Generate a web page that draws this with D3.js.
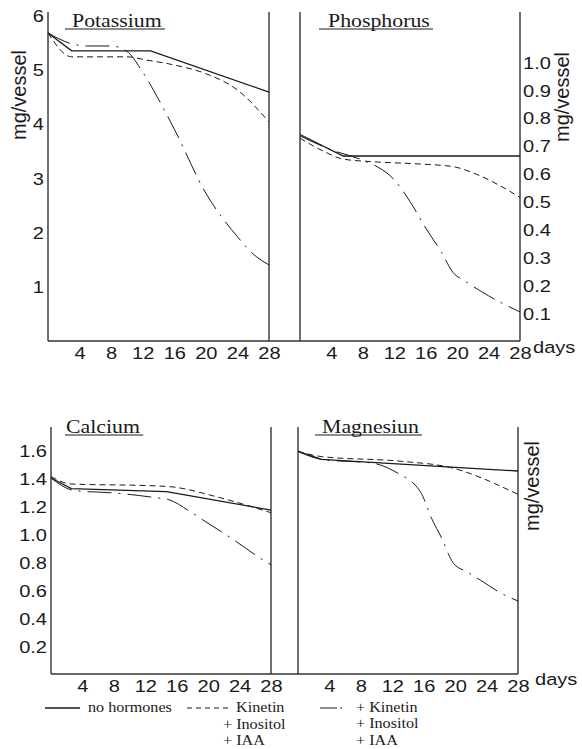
<!DOCTYPE html>
<html><head><meta charset="utf-8">
<script src="https://cdn.jsdelivr.net/npm/d3@7"></script>
<style>body{margin:0;background:#fff}svg{display:block}</style>
</head><body>
<svg id="c" width="582" height="749"></svg>
<script>
// ---------- data ----------
const xTickLabels = [4, 8, 12, 16, 20, 24, 28];
const potassiumTicks = [1, 2, 3, 4, 5, 6];
const phosphorusTicks = [0.1, 0.2, 0.3, 0.4, 0.5, 0.6, 0.7, 0.8, 0.9, 1.0];
const calciumTicks = [0.2, 0.4, 0.6, 0.8, 1.0, 1.2, 1.4, 1.6];
const panelTitles = ["Potassium", "Phosphorus", "Calcium", "Magnesiun"];
const legendLabels = [["no hormones"], ["Kinetin", "+ Inositol", "+ IAA"], ["+ Kinetin", "+ Inositol", "+ IAA"]];

// [day, mg/vessel]
const potassiumNone    = [[0,5.67],[3,5.34],[13,5.34],[28,4.58]];
const potassiumKinetin = [[0,5.67],[3,5.23],[10,5.23],[12.5,5.17],[16,5.08],[20,4.92],[24,4.62],[28,4.03]];
const potassiumPlus    = [[0,5.67],[3,5.47],[5,5.43],[8,5.43],[10,5.33],[12,4.95],[14,4.45],[16,3.9],[20,2.72],[24,1.92],[26,1.6],[28,1.40]];

const phosphorusNone    = [[0,0.74],[5.5,0.663],[28,0.663]];
const phosphorusKinetin = [[0,0.727],[3,0.68],[5.5,0.652],[9,0.643],[15.5,0.634],[19.5,0.625],[22.5,0.597],[28,0.515]];
const phosphorusPlus    = [[0,0.735],[4,0.685],[8,0.648],[10,0.622],[12,0.578],[14,0.5],[16,0.405],[18,0.318],[19.5,0.245],[21,0.215],[24,0.162],[28,0.104]];

const calciumNone    = [[0,1.40],[2.6,1.324],[14.7,1.302],[28,1.171]];
const calciumKinetin = [[0,1.41],[2.6,1.357],[12.6,1.345],[15.5,1.336],[21,1.267],[28,1.152]];
const calciumPlus    = [[0,1.40],[3,1.31],[8,1.293],[13,1.262],[15,1.245],[17.7,1.16],[19.2,1.105],[22,1.005],[23.6,0.945],[26.2,0.843],[28,0.78]];

const magnesiumNone    = [[0,1.59],[3,1.533],[28,1.45]];
const magnesiumKinetin = [[0,1.59],[3,1.553],[13,1.52],[19.3,1.476],[28,1.283]];
const magnesiumPlus    = [[0,1.59],[3,1.533],[9.6,1.505],[13,1.425],[14.7,1.362],[15.7,1.29],[17,1.112],[18.5,0.945],[19.3,0.838],[19.8,0.79],[21.5,0.73],[23.2,0.671],[25.9,0.576],[28,0.521]];

// ---------- drawing ----------
const SX = 1.18;
const SANS = "'Liberation Sans', Arial, Helvetica, sans-serif";
const SERIF = "'Liberation Serif', 'Times New Roman', serif";
const svg = d3.select("#c");
const INK = "#1a1a1a", AXIS = "#333";
const styles = {
  none:    {dash: null,          w: 1.3, curve: d3.curveLinear},
  kinetin: {dash: "6,4",         w: 1.0, curve: d3.curveMonotoneX},
  plus:    {dash: "24,7,2,7",    w: 1.0, curve: d3.curveMonotoneX}
};

function stext(g, x, y, txt, size, family, anchor) {
  return g.append("text")
    .attr("transform", `translate(${x},${y}) scale(${SX},1)`)
    .attr("text-anchor", anchor || "start")
    .attr("font-family", family).attr("font-size", size)
    .attr("fill", INK).text(txt);
}

function panel(cfg) {
  const g = svg.append("g");
  const x = d3.scaleLinear().domain([0, 28]).range([cfg.x0, cfg.x1]);
  const y = d3.scaleLinear().domain(cfg.ydom).range([cfg.yb, cfg.yTopVal]);

  [0, 28].forEach(d => g.append("line")
    .attr("x1", x(d)).attr("x2", x(d)).attr("y1", cfg.top).attr("y2", y(0))
    .attr("stroke", AXIS).attr("stroke-width", 1.4));

  const xa = g.append("g").attr("transform", `translate(0,${y(0)})`)
    .call(d3.axisBottom(x).tickValues(xTickLabels).tickSize(0).tickFormat(d3.format("d")));
  xa.select(".domain").remove();
  xa.selectAll("text").attr("y", null).attr("dy", null)
    .attr("transform", `translate(0,18) scale(${SX},1)`)
    .attr("font-family", SANS).attr("font-size", 17).attr("fill", INK);

  if (cfg.ticks) {
    const ax = cfg.side === "left" ? d3.axisLeft(y) : d3.axisRight(y);
    const ya = g.append("g").attr("transform", `translate(${cfg.side === "left" ? x(0) : x(28)},0)`)
      .call(ax.tickValues(cfg.ticks).tickSize(0).tickFormat(cfg.fmt));
    ya.select(".domain").remove();
    ya.selectAll("text").attr("x", null).attr("dy", "0.36em")
      .attr("text-anchor", cfg.side === "left" ? "end" : "start")
      .attr("transform", `translate(${cfg.side === "left" ? -4 : 3},0) scale(${SX},1)`)
      .attr("font-family", SANS).attr("font-size", 17).attr("fill", INK);
  }

  cfg.series.forEach(s => {
    const st = styles[s.kind];
    const line = d3.line().x(d => x(d[0])).y(d => y(d[1])).curve(st.curve);
    g.append("path").datum(s.data).attr("d", line)
      .attr("fill", "none").attr("stroke", INK).attr("stroke-width", st.w)
      .attr("stroke-dasharray", st.dash);
  });

  const t = stext(g, cfg.tx, cfg.ty, cfg.title, 18.5, SERIF, "start");
  const bb = t.node().getBBox();
  g.append("line").attr("x1", cfg.ux).attr("x2", cfg.tx + bb.width * SX + 3)
    .attr("y1", cfg.ty + 2).attr("y2", cfg.ty + 2).attr("stroke", INK).attr("stroke-width", 1);
  return {x, y};
}

const P1 = panel({x0: 48, x1: 269, top: 12, yb: 341, ydom: [0, 6], yTopVal: 15,
  ticks: potassiumTicks, side: "left", fmt: d3.format("d"),
  title: panelTitles[0], tx: 72, ty: 27, ux: 65,
  series: [{kind: "none", data: potassiumNone}, {kind: "kinetin", data: potassiumKinetin}, {kind: "plus", data: potassiumPlus}]});
const P2 = panel({x0: 300, x1: 520, top: 12, yb: 341, ydom: [0, 1], yTopVal: 62,
  ticks: phosphorusTicks, side: "right", fmt: d3.format(".1f"),
  title: panelTitles[1], tx: 328, ty: 27, ux: 319,
  series: [{kind: "none", data: phosphorusNone}, {kind: "kinetin", data: phosphorusKinetin}, {kind: "plus", data: phosphorusPlus}]});
const P3 = panel({x0: 51, x1: 271, top: 427, yb: 674, ydom: [0, 1.6], yTopVal: 450,
  ticks: calciumTicks, side: "left", fmt: d3.format(".1f"),
  title: panelTitles[2], tx: 66, ty: 433, ux: 65,
  series: [{kind: "none", data: calciumNone}, {kind: "kinetin", data: calciumKinetin}, {kind: "plus", data: calciumPlus}]});
const P4 = panel({x0: 298, x1: 518, top: 427, yb: 674, ydom: [0, 1.6], yTopVal: 450,
  ticks: null,
  title: panelTitles[3], tx: 322, ty: 433, ux: 315,
  series: [{kind: "none", data: magnesiumNone}, {kind: "kinetin", data: magnesiumKinetin}, {kind: "plus", data: magnesiumPlus}]});

svg.append("line").attr("x1", P1.x(0)).attr("x2", P2.x(28)).attr("y1", P1.y(0)).attr("y2", P1.y(0))
  .attr("stroke", AXIS).attr("stroke-width", 1.4);
svg.append("line").attr("x1", P3.x(0)).attr("x2", P4.x(28)).attr("y1", P3.y(0)).attr("y2", P3.y(0))
  .attr("stroke", AXIS).attr("stroke-width", 1.4);

function vlabel(x, y) {
  svg.append("text").attr("transform", `translate(${x},${y}) rotate(-90)`)
    .attr("text-anchor", "middle").attr("font-family", SANS).attr("font-size", 20)
    .attr("fill", INK).text("mg/vessel");
}
vlabel(26, 95);
vlabel(569, 97);
vlabel(539, 486);
stext(svg, 533, 353, "days", 17, SANS, "start");
stext(svg, 535, 685, "days", 17, SANS, "start");

const lg = svg.append("g");
const ly = 708;
lg.append("line").attr("x1", 45).attr("x2", 80).attr("y1", ly).attr("y2", ly).attr("stroke", INK).attr("stroke-width", 1.3);
lg.append("line").attr("x1", 187).attr("x2", 232).attr("y1", ly).attr("y2", ly).attr("stroke", INK).attr("stroke-width", 1).attr("stroke-dasharray", "5,4");
lg.append("line").attr("x1", 320).attr("x2", 342).attr("y1", ly).attr("y2", ly).attr("stroke", INK).attr("stroke-width", 1).attr("stroke-dasharray", "17,3,2,10");
const lsize = 13.7;
stext(lg, 88, 712, legendLabels[0][0], lsize, SERIF);
stext(lg, 236, 712, legendLabels[1][0], lsize, SERIF);
stext(lg, 223, 728.5, legendLabels[1][1], lsize, SERIF);
stext(lg, 223, 744.5, legendLabels[1][2], lsize, SERIF);
legendLabels[2].forEach((t, i) => stext(lg, 356, 712 + i * 16.25, t, lsize, SERIF));
</script>
</body></html>
